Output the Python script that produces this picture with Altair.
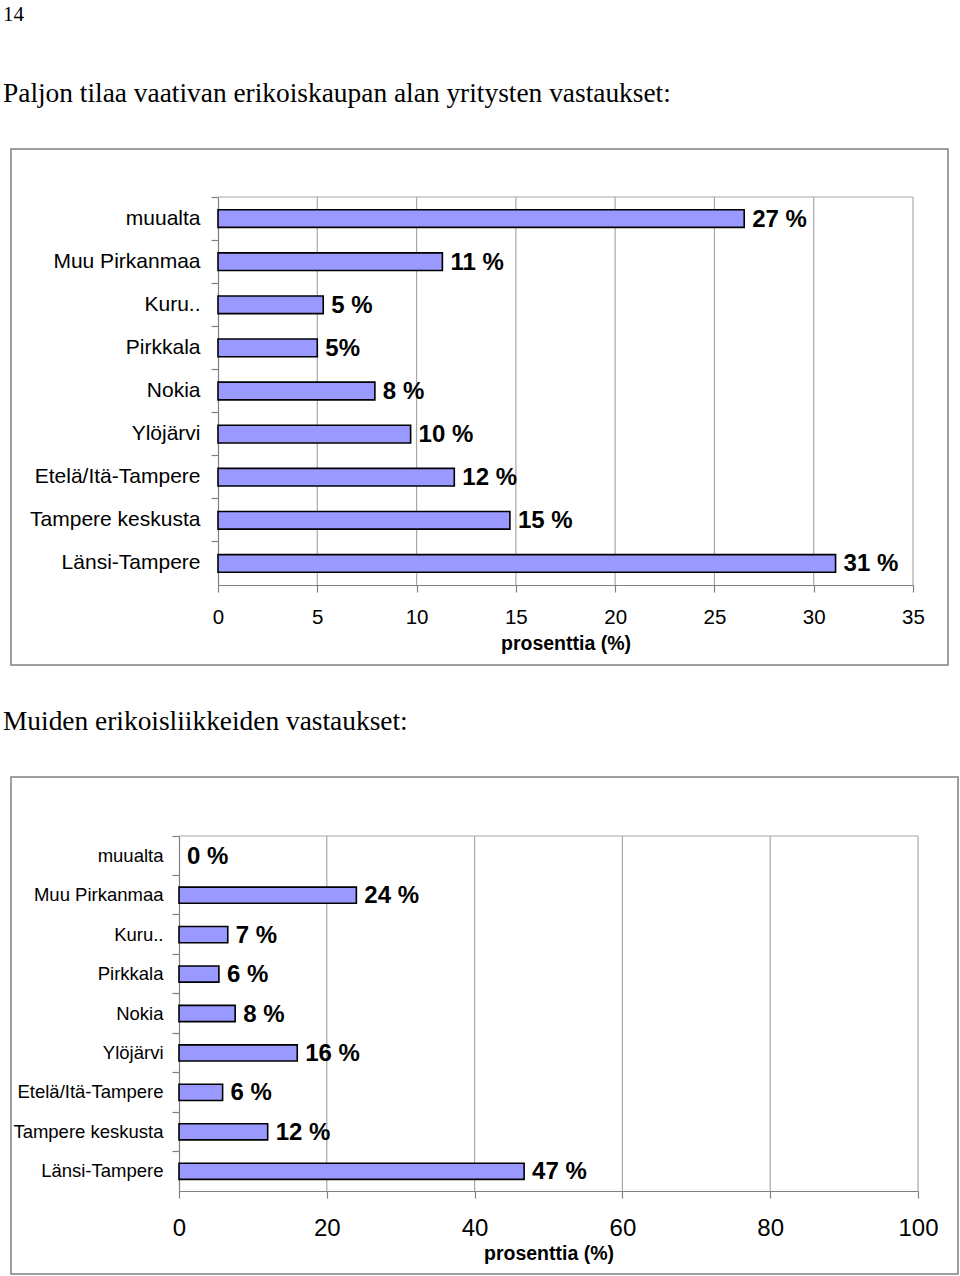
import altair as alt
import pandas as pd

# ---------------- data ----------------
page_number = "14"
heading_1 = "Paljon tilaa vaativan erikoiskaupan alan yritysten vastaukset:"
heading_2 = "Muiden erikoisliikkeiden vastaukset:"
axis_title = "prosenttia (%)"

categories = ["muualta", "Muu Pirkanmaa", "Kuru..", "Pirkkala", "Nokia",
              "Ylöjärvi", "Etelä/Itä-Tampere", "Tampere keskusta", "Länsi-Tampere"]

values_1 = [26.5, 11.3, 5.3, 5.0, 7.9, 9.7, 11.9, 14.7, 31.1]
labels_1 = ["27 %", "11 %", "5 %", "5%", "8 %", "10 %", "12 %", "15 %", "31 %"]
ticks_1 = [0, 5, 10, 15, 20, 25, 30, 35]

values_2 = [0, 24.0, 6.6, 5.4, 7.6, 16.0, 5.9, 12.0, 46.7]
labels_2 = ["0 %", "24 %", "7 %", "6 %", "8 %", "16 %", "6 %", "12 %", "47 %"]
ticks_2 = [0, 20, 40, 60, 80, 100]

# ---------------- layout / style ----------------
W, H = 960, 1276
FONT = "Liberation Sans, Arial, sans-serif"
SERIF = "Liberation Serif, Times New Roman, serif"
BAR_FILL = "#9999FF"
AXIS_GRAY = "#808080"
GRID_GRAY = "#a8a8a8"

one = pd.DataFrame({"k": [0]})


def panel(values, labels, ticks, x0, x1, y0, y1, cat_size, tick_size,
          lab_pad_y, lab_pad_x, title_pad, title_size):
    df = pd.DataFrame({"cat": categories, "val": values, "lab": labels})
    xmax = ticks[-1]
    xscale = alt.Scale(domain=[0, xmax], range=[x0, x1], nice=False, zero=True)
    yscale = alt.Scale(domain=categories, range=[y0, y1],
                       paddingInner=0, paddingOuter=0)
    x_axis = alt.Axis(orient="bottom", offset=-(H - y1), values=ticks,
                      grid=False, title=axis_title, format="d",
                      labelFont=FONT, labelFontSize=tick_size,
                      labelColor="black", labelPadding=lab_pad_x,
                      labelFlush=False,
                      titleFont=FONT, titleFontSize=title_size,
                      titleFontWeight="bold", titleColor="black",
                      titlePadding=title_pad,
                      domainColor=AXIS_GRAY, domainWidth=1.2,
                      tickColor=AXIS_GRAY, tickSize=7, tickWidth=1.2)
    y_axis = alt.Axis(orient="left", offset=-x0, title=None,
                      bandPosition=0, labelFont=FONT,
                      labelFontSize=cat_size, labelColor="black",
                      labelPadding=lab_pad_y, labelLimit=400,
                      domainColor=AXIS_GRAY, domainWidth=1.2,
                      tickColor=AXIS_GRAY, tickSize=7, tickWidth=1.2)
    x_enc = alt.X("val:Q", scale=xscale, axis=x_axis)
    y_enc = alt.Y("cat:N", sort=categories, scale=yscale, axis=y_axis)

    grid = alt.Chart(pd.DataFrame({"val": ticks[1:]})).mark_rule(
        color=GRID_GRAY, strokeWidth=1.2
    ).encode(
        x=alt.X("val:Q", scale=xscale, axis=x_axis),
        y=alt.value(y0), y2=alt.value(y1),
    )
    top_border = alt.Chart(one).mark_rule(color=GRID_GRAY, strokeWidth=1.2).encode(
        x=alt.value(x0), x2=alt.value(x1), y=alt.value(y0)
    )

    base = alt.Chart(df).encode(x=x_enc, y=y_enc)
    bars = base.mark_bar(
        fill=BAR_FILL, stroke="black", strokeWidth=1.6,
        height=alt.RelativeBandSize(0.41),
    ).encode(
        strokeOpacity=alt.condition("datum.val > 0", alt.value(1), alt.value(0))
    )
    text = base.mark_text(
        align="left", baseline="middle", dx=8, dy=1,
        font=FONT, fontWeight="bold", fontSize=24, color="black",
    ).encode(text="lab:N")
    return alt.layer(grid, top_border, bars, text)


p1 = panel(values_1, labels_1, ticks_1, 218, 913, 197, 585,
           cat_size=21, tick_size=20.5, lab_pad_y=11, lab_pad_x=15,
           title_pad=7, title_size=19.5)
p2 = panel(values_2, labels_2, ticks_2, 179, 918, 836, 1191,
           cat_size=18.5, tick_size=24, lab_pad_y=9, lab_pad_x=18,
           title_pad=4, title_size=19.5)


def frame(xa, xb, ya, yb):
    return alt.Chart(one).mark_rect(
        fillOpacity=0, stroke=AXIS_GRAY, strokeWidth=1.5
    ).encode(x=alt.value(xa), x2=alt.value(xb), y=alt.value(ya), y2=alt.value(yb))


def page_text(txt, size, yb):
    return alt.Chart(one).mark_text(
        text=txt, font=SERIF, fontSize=size, align="left",
        baseline="alphabetic", color="black",
    ).encode(x=alt.value(3), y=alt.value(yb))


chart = alt.layer(
    frame(11, 948, 149, 665),
    frame(11, 958, 777, 1274),
    page_text(page_number, 21, 21),
    page_text(heading_1, 27.4, 102),
    page_text(heading_2, 27.4, 730),
    p1,
    p2,
).resolve_scale(
    x="independent", y="independent"
).properties(
    width=W, height=H,
    autosize=alt.AutoSizeParams(type="none"),
    padding=0,
).configure_view(stroke=None)

chart.save("out.html", embed_options={"renderer": "svg", "actions": False})
